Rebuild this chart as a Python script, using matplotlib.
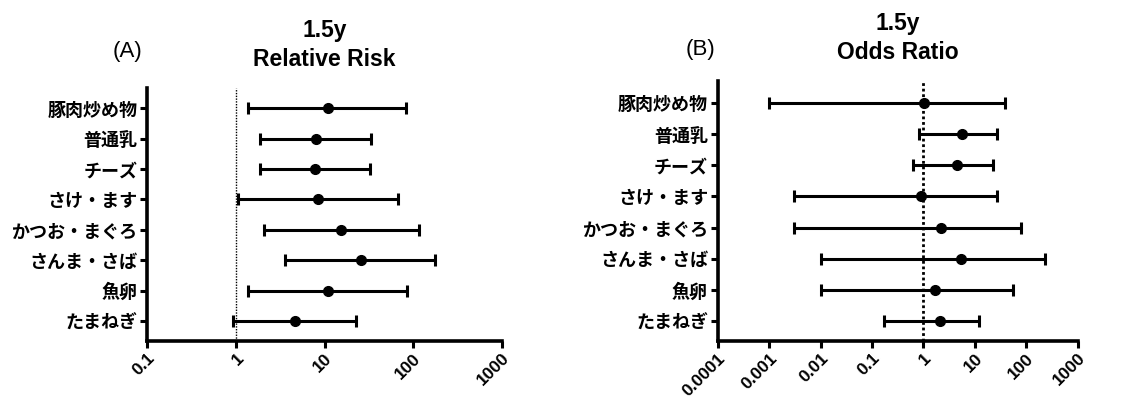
import matplotlib
matplotlib.use("Agg")
import matplotlib.pyplot as plt
import numpy as np

plt.rcParams['font.family'] = ['Liberation Sans', 'Noto Sans CJK JP', 'DejaVu Sans']

foods = ['豚肉炒め物', '普通乳', 'チーズ', 'さけ・ます', 'かつお・まぐろ', 'さんま・さば', '魚卵', 'たまねぎ']

# (A) relative risk
rr = [10.9, 8.0, 7.9, 8.4, 15.3, 25.7, 10.9, 4.7]
rr_low = [1.39, 1.88, 1.88, 1.07, 2.09, 3.6, 1.39, 0.93]
rr_high = [83, 33.6, 32.7, 66.5, 115, 177, 84.6, 22.8]

# (B) odds ratio
orr = [1.03, 5.5, 4.45, 0.91, 2.18, 5.3, 1.66, 2.1]
or_low = [0.001, 0.82, 0.63, 0.003, 0.003, 0.01, 0.01, 0.17]
or_high = [39, 26.5, 22, 26.5, 78, 235, 55, 12.1]

rr_ticks = [0.1, 1, 10, 100, 1000]
rr_ticklabels = ['0.1', '1', '10', '100', '1000']
or_ticks = [0.0001, 0.001, 0.01, 0.1, 1, 10, 100, 1000]
or_ticklabels = ['0.0001', '0.001', '0.01', '0.1', '1', '10', '100', '1000']

fig = plt.figure(figsize=(11.25, 4.04), dpi=100)
ax1 = fig.add_axes([0.1307, 0.156, 0.3156, 0.626])
ax2 = fig.add_axes([0.638, 0.156, 0.32, 0.644])


def forest(ax, est, low, high, ticks, ticklabels, ylim, refwidth):
    n = len(foods)
    ypos = np.arange(n, 0, -1)
    est = np.array(est)
    err = [est - np.array(low), np.array(high) - est]
    ax.axvline(1, color='black', linestyle=(0, (1, 1)), linewidth=refwidth, zorder=1)
    ax.errorbar(est, ypos, xerr=err, fmt='o', color='black', ecolor='black',
                elinewidth=2.2, capsize=4.5, capthick=2.2, markersize=7, zorder=3)
    ax.set_xscale('log')
    ax.set_xlim(ticks[0], ticks[-1])
    ax.set_ylim(*ylim)
    ax.set_xticks(ticks)
    ax.set_xticklabels(ticklabels, rotation=45, ha='right', va='top',
                       rotation_mode='anchor', fontsize=12.5, fontweight='bold')
    ax.xaxis.set_minor_locator(matplotlib.ticker.NullLocator())
    ax.set_yticks(ypos)
    ax.set_yticklabels(foods, fontsize=13, fontweight='bold',
                       family=['Noto Sans CJK JP'])
    for s in ['top', 'right']:
        ax.spines[s].set_visible(False)
    for s in ['left', 'bottom']:
        ax.spines[s].set_linewidth(2.6)
    ax.tick_params(axis='both', width=2.2, length=5, pad=2)


forest(ax1, rr, rr_low, rr_high, rr_ticks, rr_ticklabels, (0.34, 8.66), 1.0)
forest(ax2, orr, or_low, or_high, or_ticks, or_ticklabels, (0.36, 8.71), 2.0)

ax1.set_title('1.5y\nRelative Risk', fontsize=16.5, fontweight='bold', pad=16,
              linespacing=1.3)
ax2.set_title('1.5y\nOdds Ratio', fontsize=16.5, fontweight='bold', pad=16,
              linespacing=1.3)
fig.text(128 / 1125, 1 - 52 / 404, '(A)', fontsize=16, ha='center', va='center')
fig.text(701 / 1125, 1 - 50 / 404, '(B)', fontsize=16, ha='center', va='center')

fig.savefig('out.png', dpi=100)
